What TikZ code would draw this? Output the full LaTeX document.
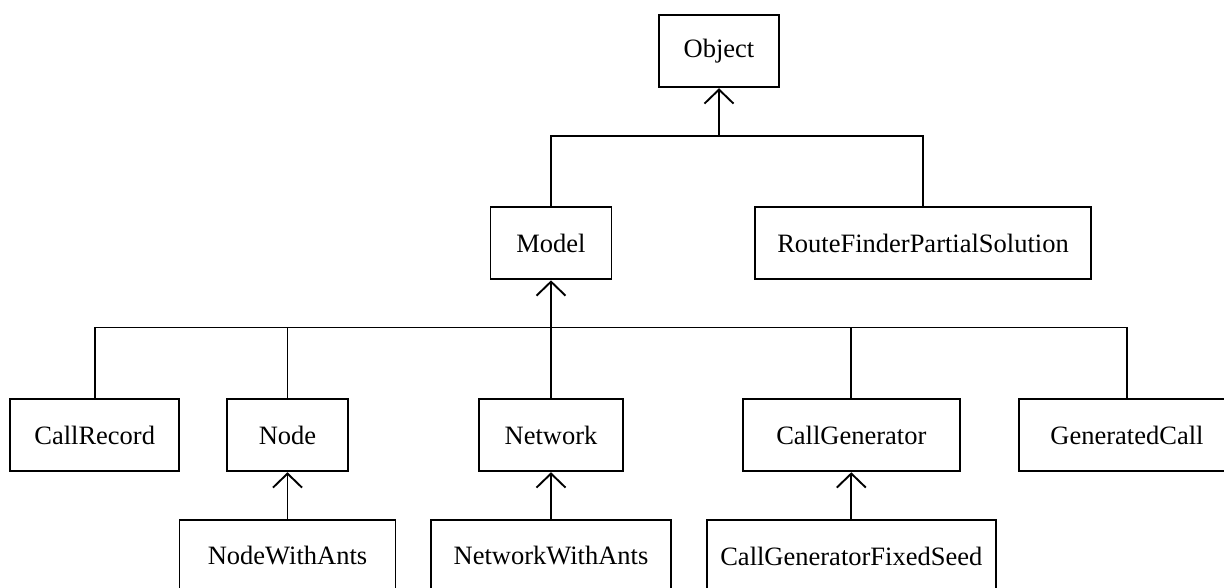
\documentclass[tikz,border=0pt]{standalone}
\usepackage{fontspec}
\setmainfont{Liberation Serif}
\usetikzlibrary{arrows.meta}

\begin{document}
\begin{tikzpicture}[x=1pt,y=-1pt,
  cls/.style={draw, line width=1.9pt, rectangle, inner sep=0pt,
    minimum height=72pt, font=\fontsize{26.5}{30}\selectfont},
  link/.style={line width=1.9pt},
  inherits/.style={link, -{Straight Barb[length=14pt,width=29pt,line width=1.9pt]}}
]
\useasboundingbox (0,0) rectangle (1224,588);
\clip (0,0) rectangle (1224,588);
\fill[white] (0,0) rectangle (1224,588);

% root
\node[cls, minimum width=120.6pt] (object) at (719,51.3) {Object};

% second level
\node[cls, minimum width=121pt] (model) at (551,243.4) {Model};
\node[cls, minimum width=336pt] (route) at (923,243.4) {RouteFinderPartialSolution};

% third level
\node[cls, minimum width=168.7pt] (callrecord) at (94.7,435.3) {CallRecord};
\node[cls, minimum width=120.6pt] (node) at (287.5,435.3) {Node};
\node[cls, minimum width=144pt] (network) at (551,435.3) {Network};
\node[cls, minimum width=216.7pt] (callgen) at (851.3,435.3) {CallGenerator};
\node[cls, minimum width=216.8pt] (gencall) at (1127,435.3) {GeneratedCall};

% fourth level
\node[cls, minimum width=216pt] (nodewa) at (287.5,556) {NodeWithAnts};
\node[cls, minimum width=240.8pt] (networkwa) at (551,556) {NetworkWithAnts};
\node[cls, minimum width=288.6pt] (cgfs) at (851.3,556) {CallGeneratorFixedSeed};

% subclasses of Object
\coordinate (jtop) at (object.south |- 0,136);
\draw[link] (model.north) -- (model.north |- jtop) -- (route.north |- jtop) -- (route.north);
\draw[inherits] (jtop) -- (object.south);

% subclasses of Model
\coordinate (jmid) at (model.south |- 0,327.5);
\draw[link] (callrecord.north) -- (callrecord.north |- jmid) -- (gencall.north |- jmid) -- (gencall.north);
\draw[link] (node.north) -- (node.north |- jmid);
\draw[link] (network.north) -- (network.north |- jmid);
\draw[link] (callgen.north) -- (callgen.north |- jmid);
\draw[inherits] (jmid) -- (model.south);

% ant-based specialisations
\draw[inherits] (nodewa.north) -- (node.south);
\draw[inherits] (networkwa.north) -- (network.south);
\draw[inherits] (cgfs.north) -- (callgen.south);
\end{tikzpicture}
\end{document}
